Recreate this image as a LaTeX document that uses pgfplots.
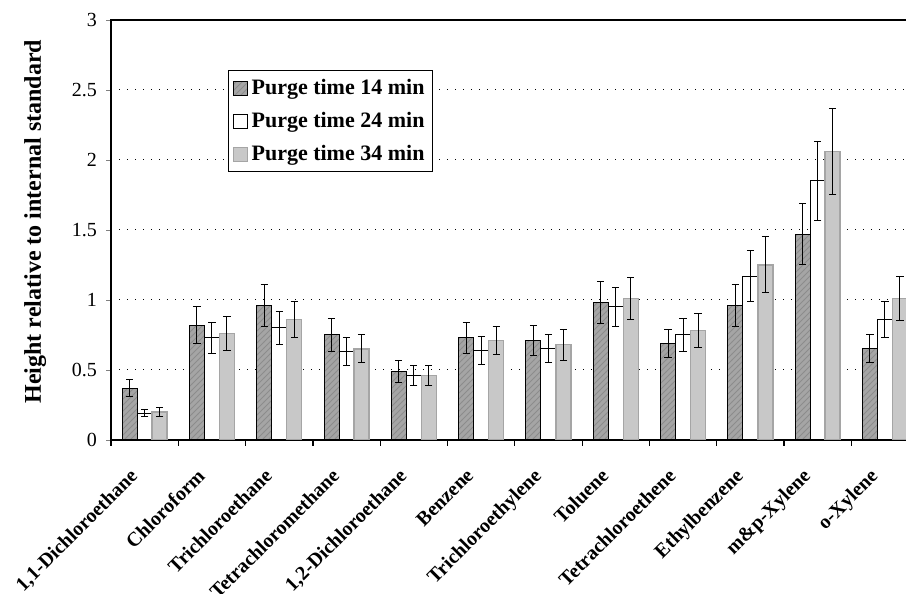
\documentclass[border=0pt]{standalone}
\usepackage{pgfplots}
\pgfplotsset{compat=1.18}
\usepackage{pgfplotstable}
\usepackage{fontspec}
\setmainfont{Liberation Serif}
\usetikzlibrary{patterns}
\definecolor{g14}{RGB}{165,165,165}
\definecolor{g34}{RGB}{200,200,200}
\definecolor{g34b}{RGB}{165,165,165}

\pgfplotstableread{
x v14 e14 v24 e24 v34 e34
0 0.37 0.06 0.19 0.025 0.20 0.03
1 0.82 0.13 0.73 0.11 0.76 0.12
2 0.96 0.15 0.80 0.12 0.86 0.13
3 0.75 0.12 0.63 0.10 0.65 0.10
4 0.49 0.08 0.46 0.07 0.46 0.07
5 0.73 0.11 0.64 0.10 0.71 0.10
6 0.71 0.11 0.65 0.10 0.68 0.11
7 0.98 0.15 0.95 0.14 1.01 0.15
8 0.69 0.10 0.75 0.12 0.78 0.12
9 0.96 0.15 1.17 0.18 1.25 0.20
10 1.47 0.22 1.85 0.28 2.06 0.31
11 0.65 0.10 0.86 0.13 1.01 0.16
}\datatable

\begin{document}
\begin{tikzpicture}
\begin{axis}[
  at={(55.5pt,77pt)}, anchor=south west,
  scale only axis, width=403.8pt, height=210pt,
  xmin=-0.5, xmax=11.5, ymin=0, ymax=3,
  ybar=0pt, bar width=0.223,
  ytick={0,0.5,...,3},
  yticklabels={0,0.5,1,1.5,2,2.5,3},
  ymajorgrids, major grid style={black, line width=0.5pt, dash pattern=on 0.7pt off 3.3pt},
  axis line style={black, line width=0.6pt},
  tick align=outside, major tick length=2.5pt,
  ytick pos=left, xtick pos=bottom,
  xtick={0,...,11},
  xticklabels={{1,1-Dichloroethane},Chloroform,Trichloroethane,Tetrachloromethane,{1,2-Dichloroethane},Benzene,Trichloroethylene,Toluene,Tetrachloroethene,Ethylbenzene,m\&p-Xylene,o-Xylene},
  xtick style={draw=none},
  extra x ticks={-0.5,0.5,...,11.5},
  extra x tick labels={},
  extra x tick style={xtick style={draw=black, line width=0.6pt}, major tick length=3pt},
  xticklabel style={font=\fontsize{10}{12}\selectfont\bfseries, xshift=-8pt, yshift=-11pt, rotate=45, anchor=north east, inner sep=0pt},
  yticklabel style={font=\fontsize{10}{12}\selectfont, xshift=-1pt},
  /pgf/number format/assume math mode=true,
  ylabel={Height relative to internal standard},
  ylabel style={font=\fontsize{12}{14}\selectfont\bfseries, at={(axis description cs:-0.094,0.52)}, anchor=center},
  legend style={at={(0.145,0.88)}, anchor=north west, draw=black, line width=0.5pt,
    font=\fontsize{11}{12}\selectfont\bfseries, row sep=3.5pt, inner sep=2pt,
    legend cell align=left},
  legend image code/.code={\draw[#1, line width=0.5pt] (0pt,-3.5pt) rectangle (7pt,3.5pt);},
  error bars/error bar style={black, line width=0.5pt},
  error bars/error mark options={black, line width=0.5pt, rotate=90, mark size=1.8pt},
]
\addplot[draw=black, line width=0.5pt, fill=g14, postaction={pattern=north east lines, pattern color=black!45}, bar shift=-0.223,
  error bars/.cd, y dir=both, y explicit]
  table[x=x, y=v14, y error=e14]{\datatable};
\addlegendentry{Purge time 14 min}
\addplot[draw=black, line width=0.5pt, fill=white, bar shift=0,
  error bars/.cd, y dir=both, y explicit]
  table[x=x, y=v24, y error=e24]{\datatable};
\addlegendentry{Purge time 24 min}
\addplot[draw=g34b, line width=0.7pt, fill=g34, bar shift=0.223,
  error bars/.cd, y dir=both, y explicit]
  table[x=x, y=v34, y error=e34]{\datatable};
\addlegendentry{Purge time 34 min}
\end{axis}
\pgfresetboundingbox
\useasboundingbox (0,0) rectangle (453pt,297pt);
\end{tikzpicture}
\end{document}
